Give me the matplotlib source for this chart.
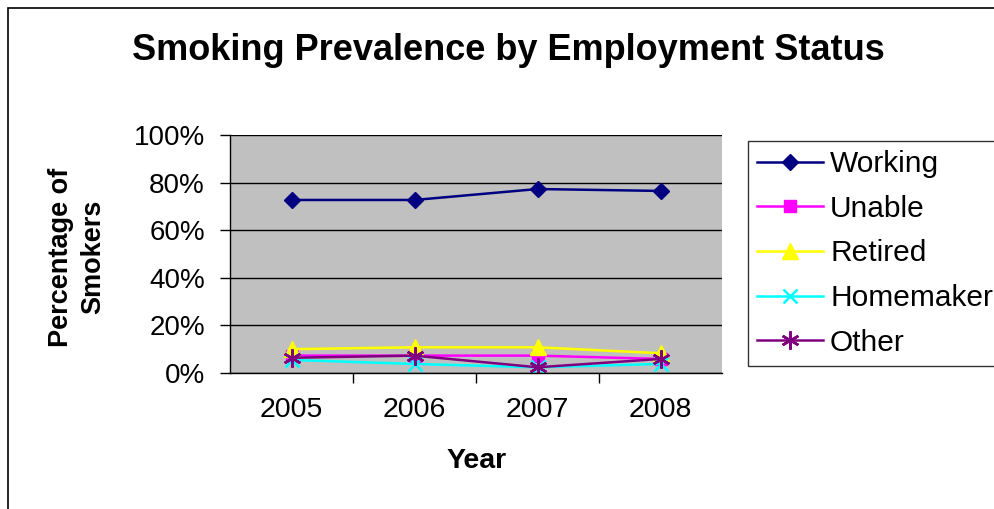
import matplotlib.pyplot as plt
from matplotlib.patches import Rectangle
from matplotlib.ticker import PercentFormatter

plt.rcParams['font.family'] = ['Liberation Sans', 'DejaVu Sans']

years = ['2005', '2006', '2007', '2008']
working = [72.7, 72.7, 77.3, 76.5]
unable = [7.3, 7.3, 7.3, 5.9]
retired = [10.0, 10.8, 10.8, 8.3]
homemaker = [5.5, 3.8, 2.4, 3.8]
other = [6.4, 7.3, 2.4, 5.9]

W, H = 995, 509
fig = plt.figure(figsize=(W / 100, H / 100), dpi=100)

# chart area border (runs off the right and bottom edges)
fig.patches.append(Rectangle((8 / W, -0.1), 1.2, 1 - 8 / H + 0.1,
                             transform=fig.transFigure, fill=False,
                             edgecolor='black', linewidth=1.2))

ax = fig.add_axes([230 / W, 1 - 373 / H, (722 - 230) / W, (373 - 135) / H])
ax.set_facecolor('#c0c0c0')

x = range(len(years))
ax.plot(x, working, color='#000080', marker='D', markersize=8, label='Working', lw=1.8)
ax.plot(x, unable, color='#ff00ff', marker='s', markersize=8, label='Unable', lw=1.8)
ax.plot(x, retired, color='#ffff00', marker='^', markersize=11, label='Retired', lw=1.8)
ax.plot(x, homemaker, color='#00ffff', marker='x', markersize=10, mew=1.8, label='Homemaker', lw=1.8)
ax.plot(x, other, color='#800080', marker=(6, 2, 0), markersize=13, mew=1.8, label='Other', lw=1.8)

ax.set_xlim(-0.5, 3.5)
ax.set_ylim(0, 100)
ax.set_yticks(range(0, 101, 20))
ax.yaxis.set_major_formatter(PercentFormatter(decimals=0))
ax.grid(axis='y', color='black', linewidth=1)
ax.set_axisbelow(True)

ax.set_xticks(list(x))
ax.set_xticklabels(years)
ax.set_xticks([0.5, 1.5, 2.5], minor=True)
ax.tick_params(axis='x', which='major', length=0, pad=17, labelsize=20.5)
ax.tick_params(axis='x', which='minor', length=7, width=1)
ax.tick_params(axis='y', length=7, width=1, labelsize=20, pad=11)

for side in ['top', 'right']:
    ax.spines[side].set_visible(False)
ax.spines['left'].set_linewidth(1)
ax.spines['bottom'].set_linewidth(1)

fig.text(477 / W, 1 - 461 / H, 'Year', ha='center', va='center',
         fontsize=20.5, fontweight='bold')
fig.text(77 / W, 1 - 257 / H, 'Percentage of\nSmokers', ha='center', va='center',
         rotation=90, fontsize=19.5, fontweight='bold', linespacing=1.35)

fig.text(508 / W, 1 - 50 / H, 'Smoking Prevalence by Employment Status',
         ha='center', va='center', fontsize=26, fontweight='bold')

leg = ax.legend(loc='upper left', bbox_to_anchor=(748 / W, 1 - 141 / H),
                bbox_transform=fig.transFigure, fontsize=21.5, frameon=True,
                fancybox=False, handlelength=2.2, labelspacing=0.56,
                borderpad=0.3, handletextpad=0.25, borderaxespad=0)
leg.get_frame().set_edgecolor('black')
leg.get_frame().set_linewidth(1)

fig.savefig('out.png', dpi=100)
